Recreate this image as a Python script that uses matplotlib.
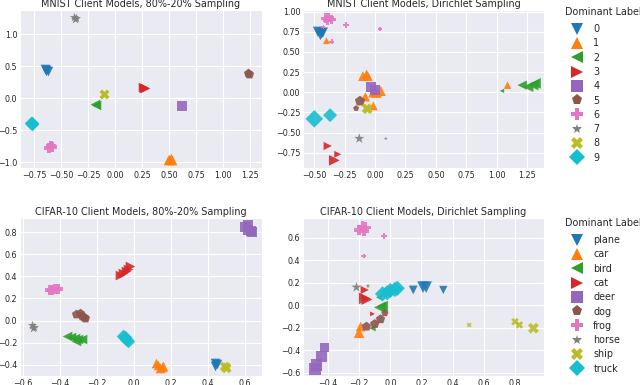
import matplotlib
matplotlib.use("Agg")
import matplotlib.pyplot as plt
import seaborn as sns
from matplotlib.lines import Line2D

sns.set_style("darkgrid")
plt.rcParams['font.family'] = ['DejaVu Sans']

# ---------------- data ----------------
mnist_labels = ["0", "1", "2", "3", "4", "5", "6", "7", "8", "9"]
cifar_labels = ["plane", "car", "bird", "cat", "deer", "dog", "frog", "horse", "ship", "truck"]
markers = ["v", "^", "<", ">", "s", "p", "P", "*", "X", "D"]
colors = ["#1f77b4", "#ff7f0e", "#2ca02c", "#d62728", "#9467bd",
          "#8c564b", "#e377c2", "#7f7f7f", "#bcbd22", "#17becf"]

# MNIST, 80%-20% sampling
m80_x = [-0.655, -0.64, -0.625, -0.645,
         0.50, 0.52, 0.51, 0.49, 0.53,
         -0.19, -0.175,
         0.26, 0.28, 0.27,
         0.625,
         1.23, 1.245,
         -0.60, -0.61, -0.59,
         -0.38, -0.365, -0.375,
         -0.105, -0.10,
         -0.78, -0.77, -0.775]
m80_y = [0.45, 0.44, 0.43, 0.425,
         -0.95, -0.94, -0.97, -0.96, -0.96,
         -0.09, -0.10,
         0.17, 0.165, 0.16,
         -0.12,
         0.39, 0.38,
         -0.75, -0.77, -0.76,
         1.26, 1.25, 1.24,
         0.06, 0.065,
         -0.39, -0.38, -0.40]
m80_lab = [0, 0, 0, 0,
           1, 1, 1, 1, 1,
           2, 2,
           3, 3, 3,
           4,
           5, 5,
           6, 6, 6,
           7, 7, 7,
           8, 8,
           9, 9, 9]

# MNIST, Dirichlet sampling
md_x = [-0.47, -0.44, -0.45, -0.43,
        -0.40, -0.10, -0.07, -0.06, -0.01, 0.01, 0.047, -0.08, -0.014, 1.09,
        1.044, 1.21, 1.26, 1.32, 1.30,
        -0.39, -0.307, -0.335,
        -0.035, 0.0,
        -0.124, -0.156,
        -0.41, -0.38, -0.36, -0.39, -0.426, -0.24, 0.04, -0.357,
        -0.13, 0.088,
        -0.07, -0.06,
        -0.50, -0.37]
md_y = [0.75, 0.73, 0.71, 0.74,
        0.64, 0.20, 0.22, 0.20, 0.005, 0.0, 0.017, -0.057, -0.17, 0.088,
        0.017, 0.088, 0.067, 0.11, 0.09,
        -0.667, -0.77, -0.845,
        0.06, 0.026,
        -0.11, -0.20,
        0.92, 0.93, 0.90, 0.89, 0.81, 0.83, 0.785, 0.627,
        -0.575, -0.575,
        -0.20, -0.21,
        -0.33, -0.285]
md_lab = [0, 0, 0, 0,
          1, 1, 1, 1, 1, 1, 1, 1, 1, 1,
          2, 2, 2, 2, 2,
          3, 3, 3,
          4, 4,
          5, 5,
          6, 6, 6, 6, 6, 6, 6, 6,
          7, 7,
          8, 8,
          9, 9]
md_size = [55, 55, 55, 55,
           25, 50, 50, 50, 65, 65, 55, 45, 40, 30,
           10, 45, 55, 60, 60,
           35, 25, 60,
           50, 55,
           60, 20,
           45, 45, 45, 45, 10, 20, 8, 15,
           60, 8,
           50, 50,
           80, 50]

# CIFAR-10, 80%-20% sampling
c80_x = [0.60, 0.615, 0.62, 0.635, 0.64,
         -0.02, -0.03, -0.04, -0.06, -0.075,
         -0.455, -0.44, -0.425, -0.41,
         -0.31, -0.29, -0.28, -0.265, -0.27,
         -0.55, -0.54, -0.545,
         -0.36, -0.34, -0.32, -0.30, -0.28, -0.31,
         -0.06, -0.05, -0.04, -0.03,
         0.12, 0.13, 0.15, 0.16, 0.14,
         0.44, 0.45, 0.44,
         0.49, 0.50, 0.50]
c80_y = [0.85, 0.86, 0.82, 0.81, 0.80,
         0.49, 0.47, 0.45, 0.43, 0.415,
         0.275, 0.28, 0.285, 0.29,
         0.06, 0.07, 0.04, 0.02, 0.03,
         -0.04, -0.06, -0.07,
         -0.14, -0.15, -0.16, -0.17, -0.17, -0.18,
         -0.14, -0.15, -0.17, -0.185,
         -0.38, -0.40, -0.42, -0.41, -0.43,
         -0.38, -0.39, -0.41,
         -0.41, -0.42, -0.43]
c80_lab = [4, 4, 4, 4, 4,
           3, 3, 3, 3, 3,
           6, 6, 6, 6,
           5, 5, 5, 5, 5,
           7, 7, 7,
           2, 2, 2, 2, 2, 2,
           9, 9, 9, 9,
           1, 1, 1, 1, 1,
           0, 0, 0,
           8, 8, 8]

# CIFAR-10, Dirichlet sampling
cd_x = [-0.20, -0.18, -0.16, -0.17, -0.042, -0.17,
        -0.217, -0.143, -0.19,
        -0.164, -0.164, -0.15, -0.114,
        -0.072, -0.067, -0.05, -0.114,
        -0.05, -0.02, 0.0, 0.03, 0.045,
        0.147, 0.21, 0.23, 0.34,
        -0.035, -0.063, -0.10, -0.153,
        -0.19, -0.20,
        -0.42, -0.44, -0.474, -0.485,
        0.506, 0.80, 0.828, 0.918]
cd_y = [0.67, 0.70, 0.69, 0.66, 0.615, 0.437,
        0.159, 0.17, 0.03,
        0.135, 0.06, 0.05, -0.078,
        0.07, -0.02, -0.01, -0.205,
        0.10, 0.11, 0.13, 0.14, 0.15,
        0.135, 0.16, 0.16, 0.135,
        -0.07, -0.125, -0.167, -0.19,
        -0.19, -0.245,
        -0.375, -0.457, -0.53, -0.57,
        -0.176, -0.147, -0.176, -0.205]
cd_lab = [6, 6, 6, 6, 6, 6,
          7, 7, 7,
          3, 3, 3, 3,
          2, 2, 2, 2,
          9, 9, 9, 9, 9,
          0, 0, 0, 0,
          5, 5, 5, 5,
          1, 1,
          4, 4, 4, 4,
          8, 8, 8, 8]
cd_size = [55, 55, 55, 55, 20, 12,
           60, 12, 12,
           35, 70, 60, 12,
           20, 70, 60, 20,
           60, 60, 60, 60, 60,
           40, 70, 70, 35,
           30, 50, 50, 50,
           50, 60,
           40, 60, 70, 70,
           12, 30, 30, 60]

# ---------------- figure ----------------
W, H = 640, 385
fig = plt.figure(figsize=(W / 100, H / 100), dpi=100)


def ax_px(left, right, top, bottom):
    return fig.add_axes([left / W, (H - bottom) / H, (right - left) / W, (bottom - top) / H])


def fmt_ticks(ticks, nd):
    return [("{:.%df}" % nd).format(t).replace('-', '\u2212') for t in ticks]


def draw(ax, xs, ys, labs, sizes, title, xlim, ylim, xticks, yticks, xnd, ynd):
    for k in range(10):
        idx = [i for i, l in enumerate(labs) if l == k]
        if not idx:
            continue
        ax.scatter([xs[i] for i in idx], [ys[i] for i in idx],
                   s=[sizes[i] for i in idx] if sizes is not None else 48,
                   marker=markers[k], color=colors[k], alpha=0.9, linewidths=0)
    ax.set_xlim(*xlim)
    ax.set_ylim(*ylim)
    ax.set_xticks(xticks)
    ax.set_yticks(yticks)
    ax.set_xticklabels(fmt_ticks(xticks, xnd))
    ax.set_yticklabels(fmt_ticks(yticks, ynd))
    ax.tick_params(labelsize=5.8, length=0, pad=2)
    ax.set_title(title, fontsize=6.9, pad=2.5)


ax1 = ax_px(20, 262, 10, 168)
draw(ax1, m80_x, m80_y, m80_lab, None, "MNIST Client Models, 80%-20% Sampling",
     (-0.884, 1.364), (-1.09, 1.377),
     [-0.75, -0.5, -0.25, 0.0, 0.25, 0.5, 0.75, 1.0, 1.25], [-1.0, -0.5, 0.0, 0.5, 1.0], 2, 1)

ax2 = ax_px(303, 544, 10, 168)
draw(ax2, md_x, md_y, md_lab, md_size, "MNIST Client Models, Dirichlet Sampling",
     (-0.593, 1.39), (-0.94, 1.02),
     [-0.5, -0.25, 0.0, 0.25, 0.5, 0.75, 1.0, 1.25],
     [-0.75, -0.5, -0.25, 0.0, 0.25, 0.5, 0.75, 1.0], 2, 2)

ax3 = ax_px(20, 262, 218, 376)
draw(ax3, c80_x, c80_y, c80_lab, None, "CIFAR-10 Client Models, 80%-20% Sampling",
     (-0.615, 0.693), (-0.50, 0.927),
     [-0.6, -0.4, -0.2, 0.0, 0.2, 0.4, 0.6], [-0.4, -0.2, 0.0, 0.2, 0.4, 0.6, 0.8], 1, 1)

ax4 = ax_px(303, 544, 218, 376)
draw(ax4, cd_x, cd_y, cd_lab, cd_size, "CIFAR-10 Client Models, Dirichlet Sampling",
     (-0.56, 0.986), (-0.63, 0.775),
     [-0.4, -0.2, 0.0, 0.2, 0.4, 0.6, 0.8], [-0.6, -0.4, -0.2, 0.0, 0.2, 0.4, 0.6], 1, 1)


def make_legend(names, top_px):
    handles = [Line2D([], [], linestyle='none', marker=markers[k], color=colors[k],
                      markersize=8 if markers[k] != '*' else 7, markeredgewidth=0)
               for k in range(10)]
    leg = fig.legend(handles, names, loc='upper left',
                     bbox_to_anchor=(565 / W, (H - top_px) / H),
                     frameon=False, title="Dominant Label", fontsize=6.9,
                     title_fontsize=6.9, handletextpad=0.45, labelspacing=0.45,
                     borderaxespad=0, borderpad=0, handlelength=2.5)
    leg._legend_box.align = "left"
    leg._legend_box.sep = 5
    return leg


make_legend(mnist_labels, 7)
make_legend(cifar_labels, 218)

fig.savefig("out.png", dpi=100)
